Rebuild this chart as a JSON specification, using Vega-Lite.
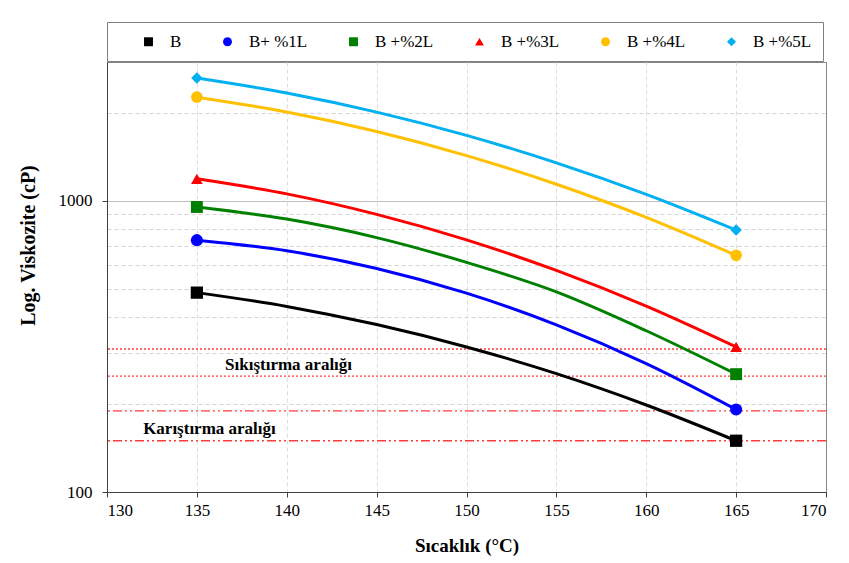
{
  "$schema": "https://vega.github.io/schema/vega-lite/v6.json",
  "width": 719,
  "height": 430,
  "autosize": {"type": "none"},
  "padding": {"left": 107, "top": 62, "right": 23, "bottom": 71},
  "background": "white",
  "config": {
    "font": "Liberation Serif",
    "view": {"stroke": "#868686", "strokeWidth": 1},
    "axis": {"labelFont": "Liberation Serif", "titleFont": "Liberation Serif", "labelColor": "#000000", "titleColor": "#000000", "domainColor": "#404040", "tickColor": "#404040"},
    "legend": {"labelFont": "Liberation Serif", "titleFont": "Liberation Serif"}
  },
  "datasets": {
    "curves": [
      {"series": "B", "T": 135, "visc": 484, "measured": true},
      {"series": "B", "T": 140, "visc": 434, "measured": false},
      {"series": "B", "T": 145, "visc": 376, "measured": false},
      {"series": "B", "T": 150, "visc": 315, "measured": false},
      {"series": "B", "T": 155, "visc": 255, "measured": false},
      {"series": "B", "T": 160, "visc": 199, "measured": false},
      {"series": "B", "T": 165, "visc": 150, "measured": true},
      {"series": "B+ %1L", "T": 135, "visc": 733, "measured": true},
      {"series": "B+ %1L", "T": 140, "visc": 674, "measured": false},
      {"series": "B+ %1L", "T": 145, "visc": 586, "measured": false},
      {"series": "B+ %1L", "T": 150, "visc": 482, "measured": false},
      {"series": "B+ %1L", "T": 155, "visc": 375, "measured": false},
      {"series": "B+ %1L", "T": 160, "visc": 276, "measured": false},
      {"series": "B+ %1L", "T": 165, "visc": 192, "measured": true},
      {"series": "B +%2L", "T": 135, "visc": 953, "measured": true},
      {"series": "B +%2L", "T": 140, "visc": 866, "measured": false},
      {"series": "B +%2L", "T": 145, "visc": 748, "measured": false},
      {"series": "B +%2L", "T": 150, "visc": 615, "measured": false},
      {"series": "B +%2L", "T": 155, "visc": 487, "measured": false},
      {"series": "B +%2L", "T": 160, "visc": 358, "measured": false},
      {"series": "B +%2L", "T": 165, "visc": 254, "measured": true},
      {"series": "B +%3L", "T": 135, "visc": 1191, "measured": true},
      {"series": "B +%3L", "T": 140, "visc": 1057, "measured": false},
      {"series": "B +%3L", "T": 145, "visc": 899, "measured": false},
      {"series": "B +%3L", "T": 150, "visc": 735, "measured": false},
      {"series": "B +%3L", "T": 155, "visc": 577, "measured": false},
      {"series": "B +%3L", "T": 160, "visc": 435, "measured": false},
      {"series": "B +%3L", "T": 165, "visc": 315, "measured": true},
      {"series": "B +%4L", "T": 135, "visc": 2272, "measured": true},
      {"series": "B +%4L", "T": 140, "visc": 2020, "measured": false},
      {"series": "B +%4L", "T": 145, "visc": 1731, "measured": false},
      {"series": "B +%4L", "T": 150, "visc": 1431, "measured": false},
      {"series": "B +%4L", "T": 155, "visc": 1141, "measured": false},
      {"series": "B +%4L", "T": 160, "visc": 878, "measured": false},
      {"series": "B +%4L", "T": 165, "visc": 650, "measured": true},
      {"series": "B +%5L", "T": 135, "visc": 2643, "measured": true},
      {"series": "B +%5L", "T": 140, "visc": 2348, "measured": false},
      {"series": "B +%5L", "T": 145, "visc": 2018, "measured": false},
      {"series": "B +%5L", "T": 150, "visc": 1679, "measured": false},
      {"series": "B +%5L", "T": 155, "visc": 1351, "measured": false},
      {"series": "B +%5L", "T": 160, "visc": 1053, "measured": false},
      {"series": "B +%5L", "T": 165, "visc": 794, "measured": true}
    ],
    "ranges": [
      {"visc": 310, "style": "dot"},
      {"visc": 250, "style": "dot"},
      {"visc": 190, "style": "dashdot"},
      {"visc": 150, "style": "dashdot"}
    ],
    "notes": [
      {"T": 140.1, "visc": 273, "text": "Sıkıştırma aralığı"},
      {"T": 135.7, "visc": 164, "text": "Karıştırma aralığı"}
    ]
  },
  "layer": [
    {
      "data": {"name": "ranges"},
      "mark": {"type": "rule", "color": "#ff3b3b", "strokeWidth": 1.4},
      "encoding": {
        "y": {
          "field": "visc", "type": "quantitative",
          "scale": {"type": "log", "domain": [100, 3000], "nice": false},
          "axis": {
            "title": "Log. Viskozite (cP)",
            "titleFontSize": 20, "titleFontWeight": "bold",
            "titleX": -79, "titleY": 183, "titleAngle": -90, "titleAlign": "center", "titleBaseline": "middle",
            "values": [100, 200, 300, 400, 500, 600, 700, 800, 900, 1000, 2000],
            "labelExpr": "datum.value == 100 || datum.value == 1000 ? datum.value : ''",
            "labelFontSize": 17, "labelPadding": 10,
            "tickSize": 5,
            "tickOpacity": {"condition": {"test": "datum.value == 100 || datum.value == 1000", "value": 1}, "value": 0},
            "grid": true,
            "gridColor": {"condition": {"test": "datum.value == 1000", "value": "#c0c0c0"}, "value": "#d4d4d4"},
            "gridDash": {"condition": {"test": "datum.value == 1000", "value": []}, "value": [4, 3]},
            "gridWidth": 1
          }
        },
        "strokeDash": {
          "field": "style", "type": "nominal",
          "scale": {"domain": ["dot", "dashdot"], "range": [[2, 2], [9, 3, 2, 3, 2, 3]]},
          "legend": null
        }
      }
    },
    {
      "data": {"name": "curves"},
      "mark": {"type": "line", "strokeWidth": 3, "interpolate": "monotone"},
      "encoding": {
        "x": {
          "field": "T", "type": "quantitative",
          "scale": {"domain": [130, 170], "nice": false, "zero": false},
          "axis": {
            "title": "Sıcaklık (°C)",
            "titleFontSize": 19, "titleFontWeight": "bold", "titlePadding": 18,
            "values": [130, 135, 140, 145, 150, 155, 160, 165, 170],
            "format": "d", "labelFontSize": 17, "labelPadding": 5, "tickSize": 5,
            "grid": true, "gridColor": "#dcdcdc", "gridDash": [4, 3],
            "gridOpacity": {"condition": {"test": "datum.value == 170 || datum.value == 130", "value": 0}, "value": 1}
          }
        },
        "y": {"field": "visc", "type": "quantitative"},
        "stroke": {
          "field": "series", "type": "nominal",
          "scale": {
            "domain": ["B +%5L", "B +%4L", "B +%3L", "B +%2L", "B+ %1L", "B"],
            "range": ["#00b0f0", "#ffc000", "#ff0000", "#008000", "#0000ff", "#000000"]
          },
          "legend": null
        }
      }
    },
    {
      "data": {"name": "curves"},
      "transform": [{"filter": "datum.measured"}],
      "mark": {"type": "point", "filled": true, "opacity": 1},
      "encoding": {
        "x": {"field": "T", "type": "quantitative"},
        "y": {"field": "visc", "type": "quantitative"},
        "color": {
          "field": "series", "type": "nominal",
          "scale": {
            "domain": ["B", "B+ %1L", "B +%2L", "B +%3L", "B +%4L", "B +%5L"],
            "range": ["#000000", "#0000ff", "#008000", "#ff0000", "#ffc000", "#00b0f0"]
          },
          "legend": {
            "title": " ", "titleOrient": "left", "titlePadding": 22, "titleFontSize": 16,
            "orient": "none", "legendX": 0, "legendY": -40,
            "direction": "horizontal", "columns": 6, "columnPadding": 37, "gridAlign": "each",
            "padding": 11, "strokeColor": "#7f7f7f", "fillColor": "#ffffff",
            "labelFontSize": 17, "labelColor": "#000000", "labelOffset": 13,
            "symbolSize": 80
          }
        },
        "shape": {
          "field": "series", "type": "nominal",
          "scale": {
            "domain": ["B", "B+ %1L", "B +%2L", "B +%3L", "B +%4L", "B +%5L"],
            "range": ["square", "circle", "square", "triangle-up", "circle", "diamond"]
          }
        },
        "size": {
          "field": "series", "type": "nominal",
          "scale": {
            "domain": ["B +%5L", "B +%4L", "B +%3L", "B +%2L", "B+ %1L", "B"],
            "range": [130, 150, 95, 95, 90, 95]
          },
          "legend": null
        }
      }
    },
    {
      "data": {"name": "notes"},
      "mark": {"type": "text", "font": "Liberation Serif", "fontSize": 17, "fontWeight": "bold", "color": "#000000"},
      "encoding": {
        "x": {"field": "T", "type": "quantitative"},
        "y": {"field": "visc", "type": "quantitative"},
        "text": {"field": "text"}
      }
    }
  ]
}
